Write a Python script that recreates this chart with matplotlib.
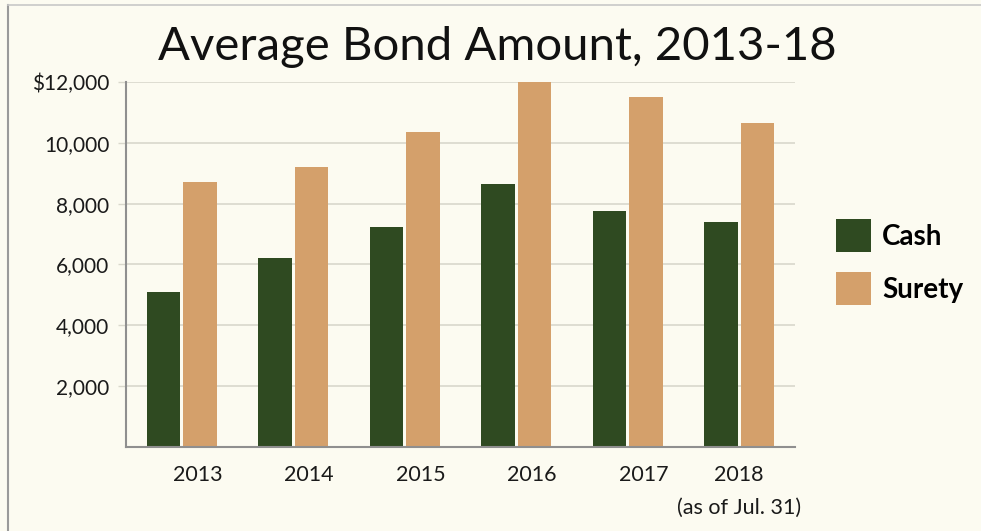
#!/usr/bin/env python3
"""Average bond amount, cash vs surety, 2013-18."""

import numpy as np
import matplotlib
matplotlib.use("Agg")
import matplotlib.pyplot as plt
from matplotlib.lines import Line2D

years = ["2013", "2014", "2015", "2016", "2017", "2018"]
cash = [5100, 6200, 7230, 8650, 7750, 7400]
surety = [8700, 9200, 10350, 12000, 11500, 10650]
yticks = [2000, 4000, 6000, 8000, 10000, 12000]
ytick_labels = ["2,000", "4,000", "6,000", "8,000", "10,000", "$12,000"]
note_2018 = "(as of Jul. 31)"

plt.rcParams['font.family'] = ['Lato', 'DejaVu Sans']

BG = '#fcfbf1'
CASH_C = '#2f4a21'
SURETY_C = '#d4a06b'
GRID_C = '#d9d8cc'
SPINE_C = '#8f8f8f'
TXT_C = '#1a1a1a'

fig = plt.figure(figsize=(9.81, 5.31), dpi=100, facecolor=BG)
ax = fig.add_axes([0.1284, 0.1582, 0.682, 0.6874], facecolor=BG)

x = np.arange(len(years))
w = 0.30
off = 0.165
ax.bar(x - off, cash, w, color=CASH_C, label='Cash', zorder=3)
ax.bar(x + off, surety, w, color=SURETY_C, label='Surety', zorder=3)

ax.set_xlim(-0.5, len(years) - 0.5)
ax.set_ylim(0, 12000)
ax.set_yticks(yticks)
ax.set_yticklabels(ytick_labels, fontsize=15, color=TXT_C)
ax.tick_params(axis='y', length=6, width=1, color=GRID_C, pad=6)

# year labels sit a little right of the group centres, except the last one
lab_x = x + np.where(x < len(years) - 1, 0.14, 0.0)
ax.set_xticks(lab_x)
ax.set_xticklabels(years, fontsize=15.5, color=TXT_C)
ax.tick_params(axis='x', length=0, pad=13)
ax.text(x[-1], -0.167, note_2018, transform=ax.get_xaxis_transform(),
        ha='center', va='center', fontsize=15.5, color=TXT_C)

ax.grid(axis='y', color=GRID_C, linewidth=1.2, zorder=0)
for s in ['top', 'right']:
    ax.spines[s].set_visible(False)
for s in ['left', 'bottom']:
    ax.spines[s].set_color(SPINE_C)
    ax.spines[s].set_linewidth(1.5)
    ax.spines[s].set_zorder(4)

fig.text(0.507, 0.912, 'Average Bond Amount, 2013-18', ha='center', va='center',
         fontsize=34, color='#111111')

ax.legend(loc='upper left', bbox_to_anchor=(0.852, 0.587),
          bbox_transform=fig.transFigure, frameon=False,
          prop={'size': 20, 'weight': 'bold'}, handlelength=1.26,
          handleheight=1.45, handletextpad=0.4, labelspacing=0.72,
          borderpad=0, borderaxespad=0)

# thin frame on the left and top edges of the picture
fig.add_artist(Line2D([8 / 981, 8 / 981], [0, 1 - 5 / 531],
                      color='#9a9a9a', linewidth=1.5, transform=fig.transFigure))
fig.add_artist(Line2D([8 / 981, 1], [1 - 5 / 531, 1 - 5 / 531],
                      color='#c8c8c8', linewidth=1.2, transform=fig.transFigure))

fig.savefig('out.png', dpi=100, facecolor=BG)
